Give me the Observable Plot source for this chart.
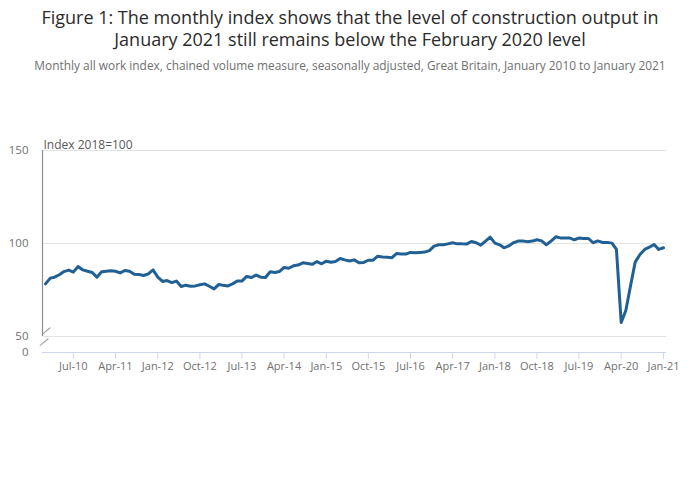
<!DOCTYPE html>
<html>
<head>
<meta charset="utf-8">
<script src="https://cdn.jsdelivr.net/npm/d3@7"></script>
<script src="https://cdn.jsdelivr.net/npm/@observablehq/plot@0.6"></script>
<style>
  html, body { margin: 0; padding: 0; background: #fff; }
  #wrap { position: relative; width: 700px; height: 486px; font-family: "Open Sans", sans-serif; }
  #title { position: absolute; top: 6px; left: 0; width: 700px; text-align: center; font-size: 18px; line-height: 22px; color: #2b2b2b; }
  #subtitle { position: absolute; top: 57px; left: 0; width: 700px; text-align: center; font-size: 11.9px; color: #707070; }
  #chart { position: absolute; top: 0; left: 0; }
</style>
</head>
<body>
<div id="wrap">
  <div id="chart"></div>
  <div id="title">Figure 1: The monthly index shows that the level of construction output in<br>January 2021 still remains below the February 2020 level</div>
  <div id="subtitle">Monthly all work index, chained volume measure, seasonally adjusted, Great Britain, January 2010 to January 2021</div>
</div>
<script>
const startMonth = "2010-01";
const endMonth = "2021-01";
const values = [
  78.3, 81.4, 81.9, 83.2, 84.9, 85.7, 84.6, 87.6, 85.8, 85.1, 84.4, 81.9,
  84.8, 85.1, 85.3, 85.1, 84.2, 85.5, 85.1, 83.5, 83.3, 82.8, 83.7, 85.8,
  81.9, 79.6, 80.1, 79.0, 79.8, 76.9, 77.6, 77.0, 77.2, 77.8, 78.3, 77.0,
  75.6, 78.0, 77.5, 77.2, 78.3, 79.8, 79.8, 82.3, 81.7, 83.0, 81.9, 81.7,
  84.8, 84.4, 84.9, 87.1, 86.7, 88.0, 88.4, 89.6, 89.2, 88.8, 90.3, 89.1,
  90.5, 89.9, 90.3, 91.9, 91.2, 90.6, 91.2, 89.6, 89.8, 91.0, 91.0, 93.2,
  92.8, 92.6, 92.3, 94.6, 94.4, 94.3, 95.2, 95.0, 95.2, 95.4, 96.2, 98.6,
  99.3, 99.3, 99.8, 100.4, 99.8, 99.8, 99.7, 101.1, 100.4, 99.1, 101.3, 103.4,
  100.2, 99.3, 97.7, 98.7, 100.4, 101.3, 101.4, 101.0, 101.3, 102.0, 101.4, 99.3,
  101.3, 103.6, 103.0, 102.9, 103.0, 102.0, 102.9, 102.7, 102.7, 100.4, 101.4, 100.6,
  100.6, 100.2, 96.8, 57.5, 64.0, 77.4, 90.0, 94.1, 96.8, 98.0, 99.5, 96.8,
  97.7
];
const xTickLabels = ["Jul-10","Apr-11","Jan-12","Oct-12","Jul-13","Apr-14","Jan-15","Oct-15","Jul-16","Apr-17","Jan-18","Oct-18","Jul-19","Apr-20","Jan-21"];
const yTicks = [50, 100, 150];
const yBreakValue = 41.4;   // axis bottom, drawn as "0" after the break
const yBreakLabel = "0";
const yUnitLabel = "Index 2018=100";

const parseMonth = d3.utcParse("%Y-%m");
const months = d3.utcMonth.range(parseMonth(startMonth), d3.utcMonth.offset(parseMonth(endMonth), 1));
const data = months.map((date, i) => ({date, value: values[i]}));
const parseTick = d3.utcParse("%b-%y");
const xTicks = xTickLabels.map(parseTick);
const fmtTick = d3.utcFormat("%b-%y");

const chart = Plot.plot({
  width: 700,
  height: 486,
  marginLeft: 42,
  marginRight: 34,
  marginTop: 150,
  marginBottom: 134,
  style: {fontFamily: "Open Sans, sans-serif", background: "transparent"},
  x: {type: "utc", domain: [months[0], months[months.length - 1]], inset: 3},
  y: {domain: [yBreakValue, d3.max(yTicks)]},
  marks: [
    Plot.ruleY(yTicks, {stroke: "#e2e2e2", strokeWidth: 1}),
    Plot.ruleX([months[0]], {y1: d3.min(yTicks), y2: d3.max(yTicks), dx: -3, stroke: "#8c8c8c", strokeWidth: 1.2}),
    Plot.ruleY([yBreakValue], {stroke: "#ccd6eb", strokeWidth: 1}),
    Plot.text([0], {frameAnchor: "bottom-left", text: () => "—", dy: -15, dx: 1, rotate: -40, fontSize: 12, fill: "#8c8c8c"}),
    Plot.text([0], {frameAnchor: "bottom-left", text: () => "—", dy: -4, dx: -1, rotate: -40, fontSize: 12, fill: "#8c8c8c"}),
    Plot.axisX({ticks: xTicks, tickFormat: fmtTick, tickSize: 7, tickPadding: 3, stroke: "#ccd6eb", fill: "#707070", fontSize: 11, label: null}),
    Plot.axisY({ticks: [yBreakValue, ...yTicks], tickFormat: d => d === yBreakValue ? yBreakLabel : String(d), tickSize: 0, tickPadding: 14, fill: "#707070", fontSize: 11.5, label: null}),
    Plot.text([yUnitLabel], {frameAnchor: "top-left", text: d => d, textAnchor: "start", lineAnchor: "bottom", dx: 1, dy: -2, fill: "#595959", fontSize: 12}),
    Plot.line(data, {x: "date", y: "value", stroke: "#206095", strokeWidth: 3, strokeLinejoin: "round", strokeLinecap: "round"})
  ]
});
document.getElementById("chart").appendChild(chart);
</script>
</body>
</html>
